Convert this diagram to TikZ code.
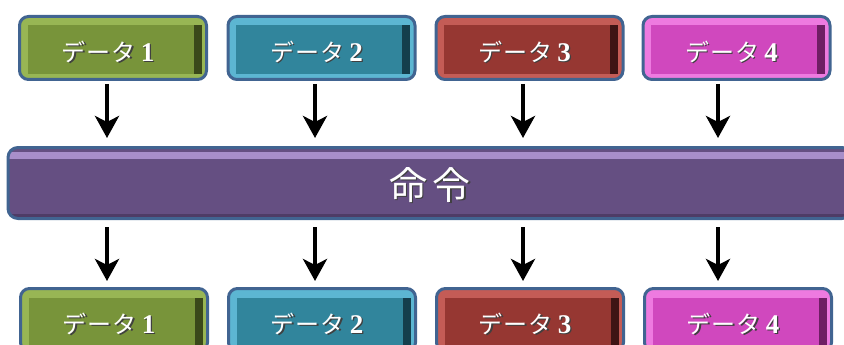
\documentclass[tikz,border=0pt]{standalone}
\usepackage{fontspec}
\newfontfamily\jp{Noto Sans CJK JP}
\newfontfamily\digitfont{Liberation Serif}
\usetikzlibrary{arrows.meta}

\definecolor{frameblue}{RGB}{65,100,145}
\definecolor{grn}{RGB}{120,148,58}
\definecolor{grnhi}{RGB}{152,182,84}
\definecolor{grndk}{RGB}{58,72,26}
\definecolor{tea}{RGB}{49,133,156}
\definecolor{teahi}{RGB}{92,182,210}
\definecolor{teadk}{RGB}{20,62,76}
\definecolor{rd}{RGB}{150,55,50}
\definecolor{rdhi}{RGB}{196,92,86}
\definecolor{rddk}{RGB}{62,20,20}
\definecolor{mg}{RGB}{208,72,190}
\definecolor{mghi}{RGB}{238,122,224}
\definecolor{mgdk}{RGB}{110,30,100}
\definecolor{pur}{RGB}{101,79,130}
\definecolor{purhi}{RGB}{168,142,202}
\definecolor{purdk}{RGB}{78,60,102}

\newcommand\shtext[1]{\leavevmode\rlap{\kern1.3pt\raisebox{-1.3pt}{\color{black!75}#1}}#1}
\newcommand\datalbl[1]{\raisebox{-13.5pt}[0pt][0pt]{\makebox[0pt]{\hspace{-10pt}\shtext{{\jp\fontsize{24pt}{26pt}\selectfont デ\kern1pt ー\kern1pt タ}\kern5pt{\digitfont\bfseries\fontsize{27pt}{28pt}\selectfont #1}}}}}

\tikzset{
  databox/.style={draw=frameblue, line width=3pt, rounded corners=9pt,
    fill=#1hi, minimum width=187pt, minimum height=63pt, inner sep=0pt,
    text=white,
    path picture={
      \fill[#1, sharp corners] ([shift={(8pt,-9pt)}]path picture bounding box.north west)
        rectangle ([shift={(-5pt,5pt)}]path picture bounding box.south east);
      \fill[#1dk, sharp corners] ([shift={(-13pt,-9pt)}]path picture bounding box.north east)
        rectangle ([shift={(-5pt,5pt)}]path picture bounding box.south east);
    }},
  barbox/.style={draw=frameblue, line width=3pt, rounded corners=10pt,
    fill=pur, minimum width=844pt, minimum height=71pt, inner sep=0pt,
    text=white, font=\jp\fontsize{38pt}{40pt}\selectfont,
    path picture={
      \fill[purhi, sharp corners] ([shift={(0pt,-4pt)}]path picture bounding box.north west)
        rectangle ([shift={(0pt,-11pt)}]path picture bounding box.north east);
      \fill[purdk, sharp corners] ([shift={(0pt,5pt)}]path picture bounding box.south west)
        rectangle (path picture bounding box.south east);
    }},
  arr/.style={line width=4pt, -{Stealth[length=22pt,width=24pt,inset=6pt]}}
}

\begin{document}
\begin{tikzpicture}[x=1pt,y=1pt]
\useasboundingbox (0,0) rectangle (844,-345);
\clip (0,0) rectangle (844,-345);

% top row
\node[databox=grn] (t1) at (113,-48) {\datalbl{1}};
\node[databox=tea] (t2) at (321.5,-48) {\datalbl{2}};
\node[databox=rd]  (t3) at (529.5,-48) {\datalbl{3}};
\node[databox=mg]  (t4) at (736.5,-48) {\datalbl{4}};

% instruction bar
\node[barbox] (bar) at (430,-183) {\raisebox{-16pt}[0pt][0pt]{\makebox[0pt]{\shtext{命\kern6pt 令}}}};

% bottom row
\node[databox=grn] (b1) at (114,-320) {\datalbl{1}};
\node[databox=tea] (b2) at (322,-320) {\datalbl{2}};
\node[databox=rd]  (b3) at (530,-320) {\datalbl{3}};
\node[databox=mg]  (b4) at (738,-320) {\datalbl{4}};

% arrow columns
\coordinate (a1) at (107,0);
\coordinate (a2) at (315,0);
\coordinate (a3) at (523,0);
\coordinate (a4) at (718,0);

\draw[arr, shorten <=3pt, shorten >=8pt] (t1.south -| a1) -- (bar.north -| a1);
\draw[arr, shorten <=3pt, shorten >=8pt] (t2.south -| a2) -- (bar.north -| a2);
\draw[arr, shorten <=3pt, shorten >=8pt] (t3.south -| a3) -- (bar.north -| a3);
\draw[arr, shorten <=3pt, shorten >=8pt] (t4.south -| a4) -- (bar.north -| a4);

\draw[arr, shorten <=7pt, shorten >=6pt] (bar.south -| a1) -- (b1.north -| a1);
\draw[arr, shorten <=7pt, shorten >=6pt] (bar.south -| a2) -- (b2.north -| a2);
\draw[arr, shorten <=7pt, shorten >=6pt] (bar.south -| a3) -- (b3.north -| a3);
\draw[arr, shorten <=7pt, shorten >=6pt] (bar.south -| a4) -- (b4.north -| a4);
\end{tikzpicture}
\end{document}
